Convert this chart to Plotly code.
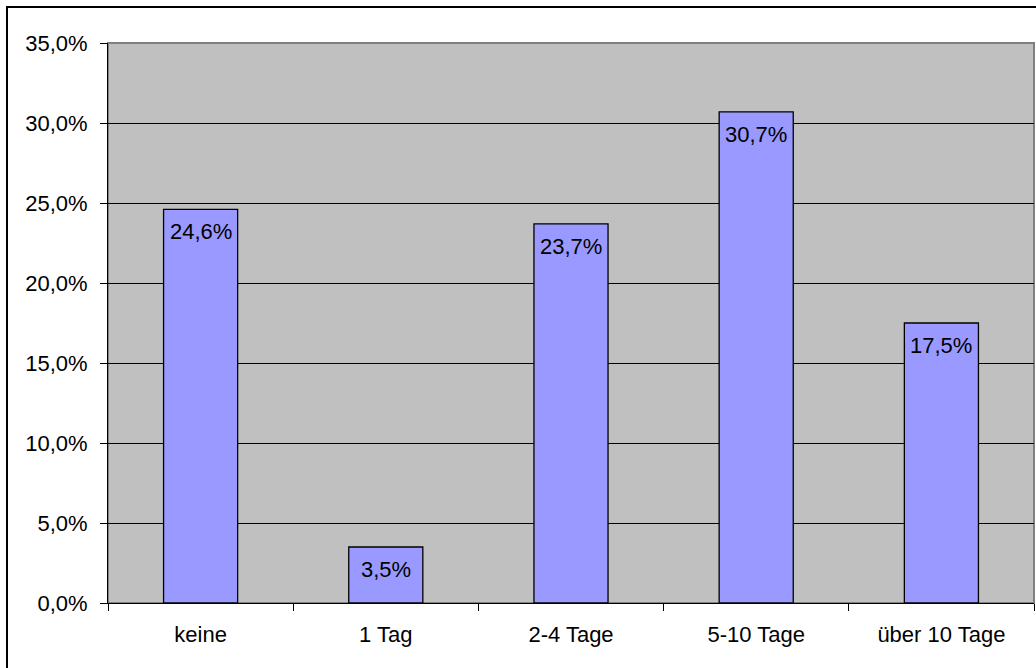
import plotly.graph_objects as go

categories = ["keine", "1 Tag", "2-4 Tage", "5-10 Tage", "über 10 Tage"]
values = [24.6, 3.5, 23.7, 30.7, 17.5]
value_labels = ["24,6%", "3,5%", "23,7%", "30,7%", "17,5%"]

FONT = "Liberation Sans, Arial, sans-serif"
FS = 22

fig = go.Figure()
fig.add_trace(go.Bar(
    x=categories,
    y=values,
    width=0.4,
    marker=dict(color="#9999FF", line=dict(color="black", width=1.3)),
    hoverinfo="skip",
))

# value labels just below each bar top
for cat, val, lab in zip(categories, values, value_labels):
    fig.add_annotation(
        x=cat, y=val, text=lab, showarrow=False,
        yanchor="top", yshift=-8,
        font=dict(family=FONT, size=FS, color="black"),
    )

L, T, R, B = 108, 43, 2, 65
W, H = 1036, 668
pw, ph = W - L - R, H - T - B

# chart frame (left and top edges fall inside the page)
fig.add_shape(
    type="path", xref="paper", yref="paper",
    path=f"M {(7 - L) / pw} {-(H - T - ph) / ph - 0.1} L {(7 - L) / pw} {1 + (T - 7) / ph} L {1.1} {1 + (T - 7) / ph}",
    line=dict(color="black", width=2),
)
# plot area border
fig.add_shape(
    type="rect", xref="paper", yref="paper", x0=0, y0=0, x1=1, y1=1,
    line=dict(color="#808080", width=2), layer="below",
)

fig.update_layout(
    width=W, height=H,
    margin=dict(l=L, r=R, t=T, b=B),
    paper_bgcolor="white",
    plot_bgcolor="#C0C0C0",
    separators=",.",
    showlegend=False,
    font=dict(family=FONT, size=FS, color="black"),
    xaxis=dict(
        type="category",
        tickson="boundaries",
        ticks="outside", ticklen=7, tickcolor="black", tickwidth=1,
        showline=True, linecolor="black", linewidth=1,
        showgrid=False,
        tickfont=dict(family=FONT, size=FS, color="black"),
        ticklabelstandoff=12,
    ),
    yaxis=dict(
        range=[0, 35], dtick=5, tick0=0,
        tickformat=".1f", ticksuffix="%",
        ticks="outside", ticklen=7, tickcolor="black", tickwidth=1,
        showline=True, linecolor="black", linewidth=1,
        showgrid=True, gridcolor="black", gridwidth=1,
        zeroline=False,
        tickfont=dict(family=FONT, size=FS, color="black"),
        ticklabelstandoff=8,
    ),
)

fig.write_html("out.html")
